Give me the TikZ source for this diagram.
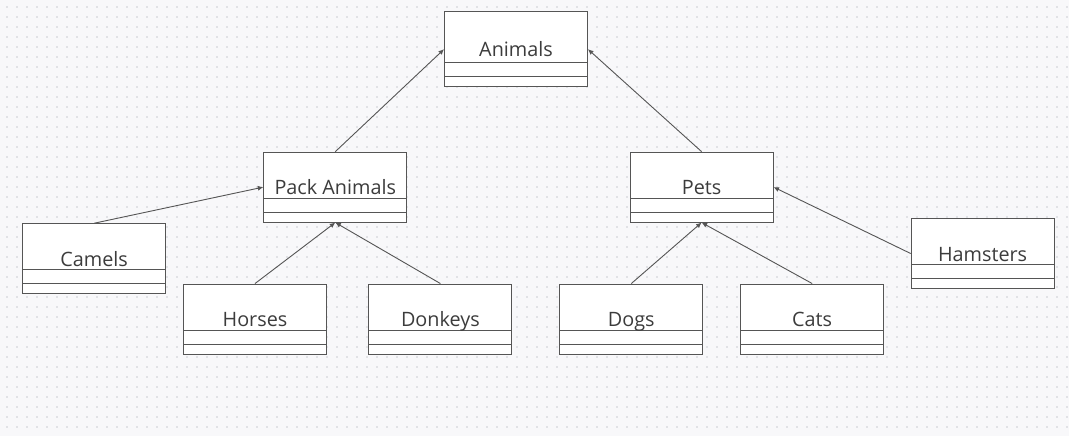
\documentclass[tikz,border=0pt]{standalone}
\usepackage{fontspec}
\usepackage{tikz}
\usetikzlibrary{arrows.meta,positioning}
\newfontfamily\classfont{Open Sans}

\definecolor{canvas}{HTML}{F8F8FA}
\definecolor{griddot}{HTML}{E1E2E6}
\definecolor{boxline}{HTML}{555555}
\definecolor{classtext}{HTML}{3C3C3C}

\tikzset{
  classbox/.style={draw=boxline, fill=white, line width=0.9pt,
    minimum width=143pt, minimum height=70pt, inner sep=0pt,
    text=classtext, font=\classfont\fontsize{19.8}{22}\selectfont,
    text height=15pt, text depth=0pt,
    path picture={
      \draw[boxline, line width=0.9pt]
        ([yshift=24pt]path picture bounding box.south west) -- ([yshift=24pt]path picture bounding box.south east)
        ([yshift=10pt]path picture bounding box.south west) -- ([yshift=10pt]path picture bounding box.south east);
    }},
  inherit/.style={->, draw=boxline, line width=0.9pt}
}

\begin{document}
\begin{tikzpicture}[>={Latex[length=5.5pt,width=5pt]}]
    % canvas with dot grid
    \fill[canvas] (0,0) rectangle (1069pt,-436pt);
    \useasboundingbox (0,0) rectangle (1069pt,-436pt);
    \foreach \x in {7,17,...,1067}
      \foreach \y in {7,17,...,427}
        \fill[griddot] (\x pt-0.75pt,-\y pt-0.75pt) rectangle ++(1.5pt,1.5pt);

    % bottom row
    \node(horses)  [classbox] at (255pt,-319pt)  {Horses};
    \node(donkeys) [classbox, right=41.5pt of horses]  {Donkeys};
    \node(dogs)    [classbox, right=47pt of donkeys]   {Dogs};
    \node(cats)    [classbox, right=37pt of dogs]      {Cats};

    % side boxes
    \node(camels)   [classbox, left=17pt of horses, yshift=60.3pt] {Camels};
    \node(hamsters) [classbox, right=26.5pt of cats, yshift=65.5pt] {Hamsters};

    % middle row
    \node(pack) [classbox, above=61pt of horses, xshift=80.3pt] {Pack Animals};
    \node(pets) [classbox, above=61pt of dogs, xshift=70.3pt]   {Pets};

    % top
    \node(animals) [classbox, minimum height=75pt, above=64.5pt of pack, xshift=180.7pt] {Animals};

    % pack animals
    \draw [inherit] (camels.north) to (pack.west);
    \draw [inherit] (horses.north) to (pack.south);
    \draw [inherit] (donkeys.north) to (pack.south);

    % pets
    \draw [inherit] (dogs.north) to (pets.south);
    \draw [inherit] (cats.north) to (pets.south);
    \draw [inherit] (hamsters.west) to (pets.east);

    % animals
    \draw [inherit] (pack.north) to (animals.west);
    \draw [inherit] (pets.north) to (animals.east);
\end{tikzpicture}
\end{document}
